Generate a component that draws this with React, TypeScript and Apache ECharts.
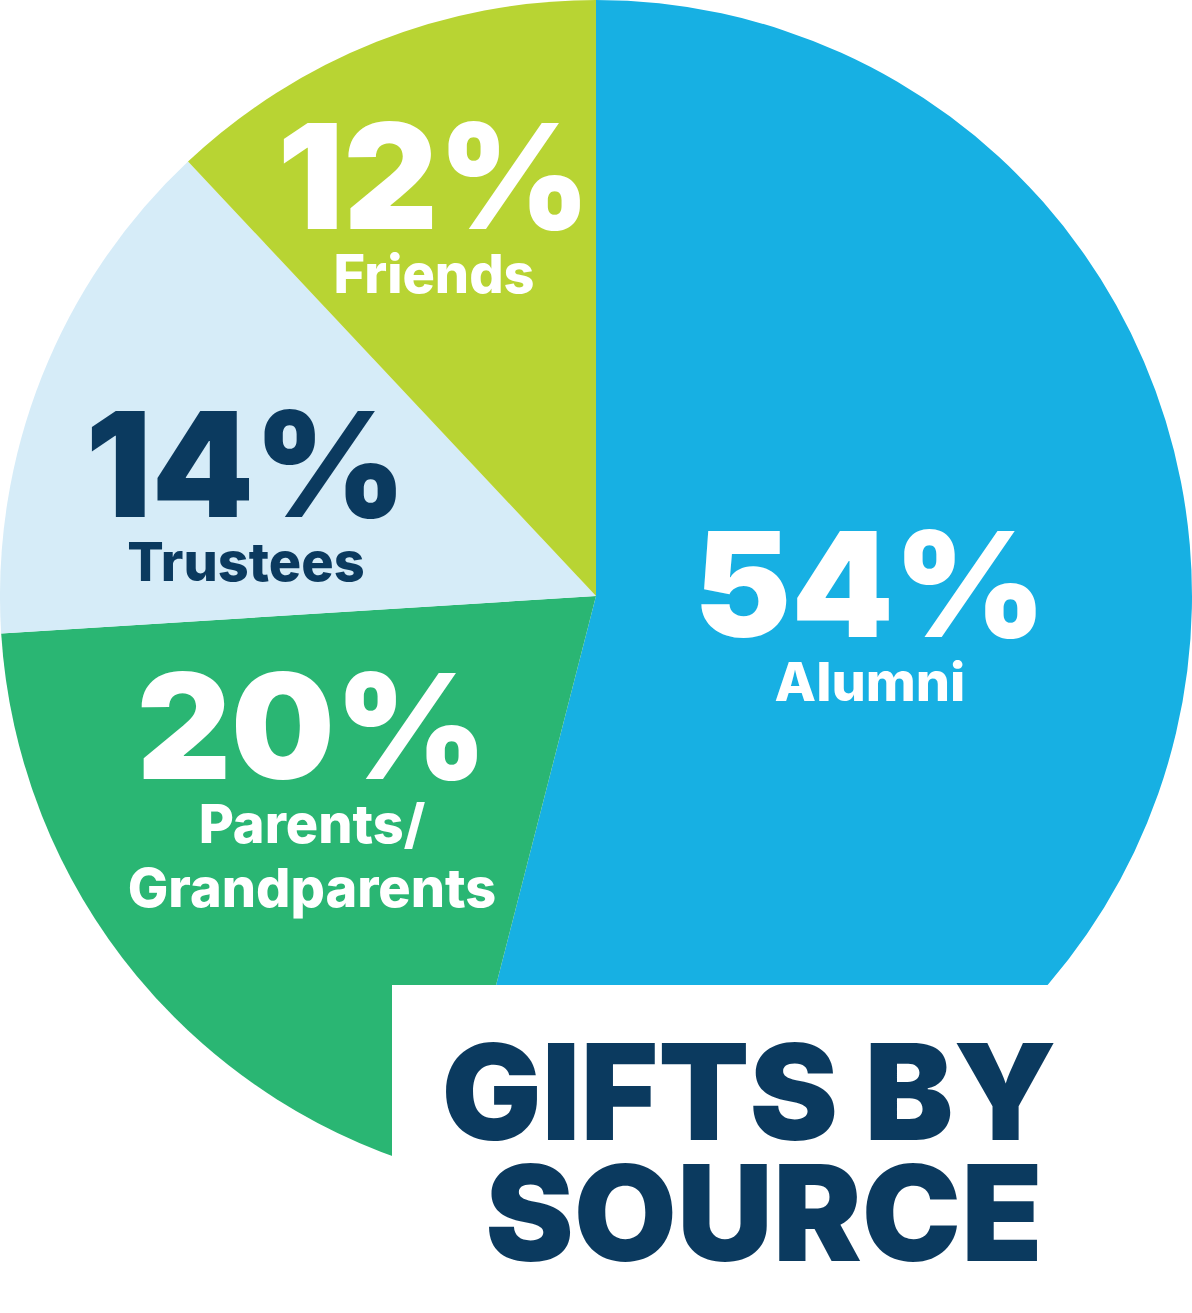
import React, { useEffect, useRef } from "react";
import * as echarts from "echarts";

const categories = ["Alumni", "Parents/\nGrandparents", "Trustees", "Friends"];
const values = [54, 20, 14, 12];
const colors = ["#17b0e3", "#2ab673", "#d6ecf8", "#b8d433"];
const labelColors = ["#ffffff", "#ffffff", "#0b3a5f", "#ffffff"];
const titleLines = ["GIFTS BY", "SOURCE"];

// label block centres (layout only)
const LABEL_POS = [
  [870, 616],
  [312, 790],
  [246, 496],
  [434, 208],
];
const TITLE_X = [749, 764];

const FONT = "Inter, Lato, 'DejaVu Sans', sans-serif";

export default function App() {
  const ref = useRef<HTMLDivElement>(null);
  useEffect(() => {
    if (!ref.current) return;
    const chart = echarts.init(ref.current, undefined, { renderer: "svg" });
    chart.setOption({
      animation: false,
      backgroundColor: "#ffffff",
      series: [
        {
          type: "pie",
          center: [596, 596],
          radius: [0, 596],
          startAngle: 90,
          clockwise: true,
          avoidLabelOverlap: false,
          label: {
            show: true,
            position: "inside",
            formatter: (p: any) => `{p|${p.value}%}\n{n|${p.name}}`,
            rich: {
              p: { fontSize: 146, fontWeight: 900, fontFamily: FONT, lineHeight: 130, align: "center" },
              n: { fontSize: 54, fontWeight: 800, fontFamily: FONT, lineHeight: 64, align: "center" },
            },
          },
          labelLine: { show: false },
          labelLayout: (params: any) => ({
            x: LABEL_POS[params.dataIndex][0],
            y: LABEL_POS[params.dataIndex][1],
            align: "center",
            verticalAlign: "middle",
          }),
          itemStyle: { borderWidth: 0 },
          emphasis: { disabled: true },
          data: categories.map((name, i) => ({
            name,
            value: values[i],
            itemStyle: { color: colors[i] },
            label: {
              color: labelColors[i],
              rich: {
                p: { color: labelColors[i] },
                n: { color: labelColors[i] },
              },
            },
          })),
        },
      ],
      graphic: [
        {
          type: "rect",
          z: 100,
          shape: { x: 392, y: 985, width: 800, height: 328 },
          style: { fill: "#ffffff" },
        },
        ...titleLines.map((t, i) => ({
          type: "text",
          z: 101,
          x: TITLE_X[i],
          y: 1091 + i * 121,
          style: {
            text: t,
            fill: "#0b3a5f",
            font: `900 133px ${FONT}`,
            textAlign: "center",
            textVerticalAlign: "middle",
          },
        })),
      ],
    });
    return () => chart.dispose();
  }, []);
  return (
    <div
      ref={ref}
      style={{ position: "absolute", left: 0, top: 0, width: 1192, height: 1313 }}
    />
  );
}
